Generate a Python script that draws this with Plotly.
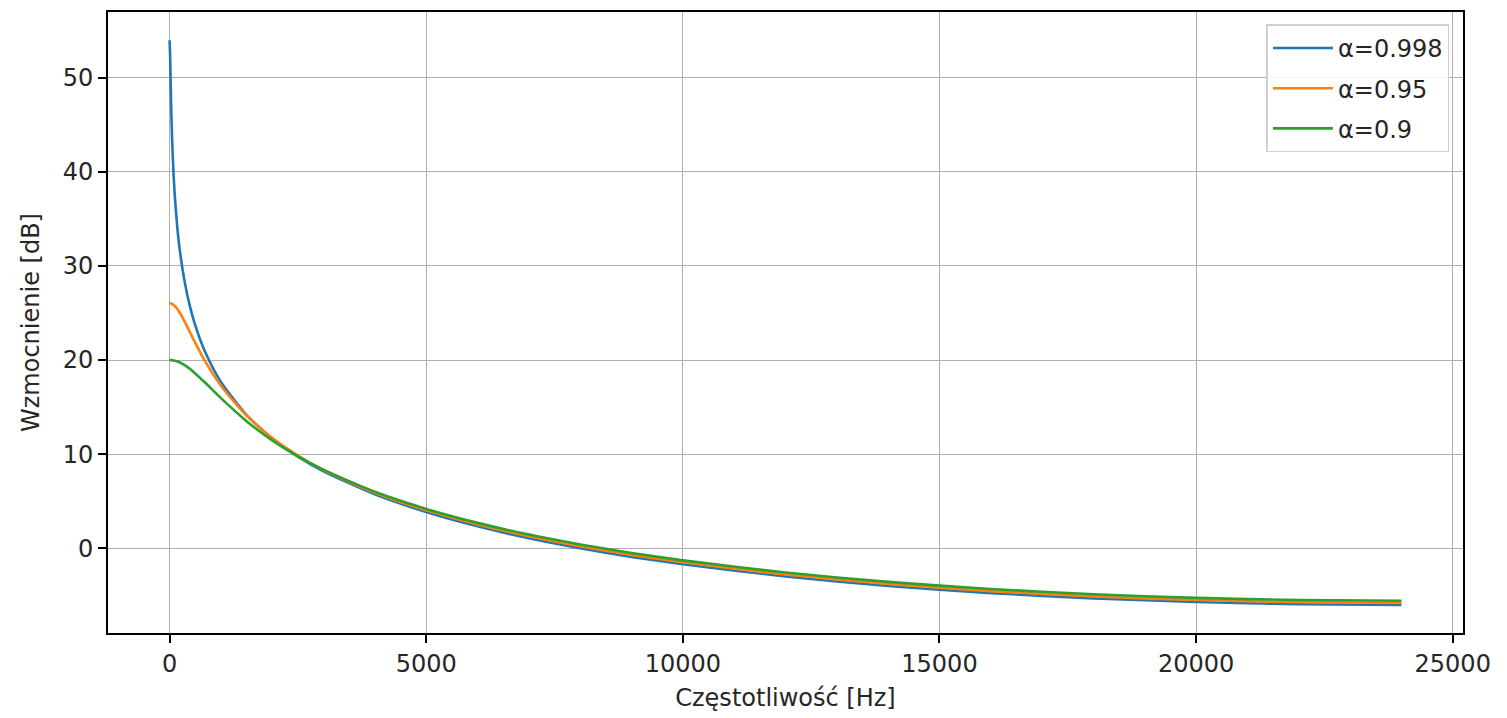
import plotly.graph_objects as go

# Frequency response of first-order de-emphasis filters, fs = 48 kHz
freq_hz = [0, 10, 20, 30, 50, 75, 100, 150, 200, 300, 400, 500, 700, 1000, 1500,
           2000, 2500, 3000, 4000, 5000, 6000, 7000, 8000, 9000, 10000, 12000,
           14000, 16000, 18000, 20000, 22000, 24000]

gain_a0998 = [53.98, 52.43, 49.65, 47.12, 43.30, 40.00, 37.57, 34.10, 31.62, 28.12,
              25.62, 23.69, 20.77, 17.68, 14.16, 11.67, 9.75, 8.18, 5.73, 3.85,
              2.33, 1.07, 0.01, -0.91, -1.70, -3.00, -4.00, -4.76, -5.32, -5.71,
              -5.94, -6.01]

gain_a095 = [26.02, 26.02, 26.01, 26.00, 25.95, 25.86, 25.75, 25.43, 25.02, 24.02,
             22.92, 21.83, 19.80, 17.27, 14.09, 11.72, 9.86, 8.32, 5.90, 4.03,
             2.53, 1.27, 0.21, -0.70, -1.49, -2.79, -3.79, -4.55, -5.11, -5.50,
             -5.73, -5.80]

gain_a09 = [20.00, 20.00, 20.00, 19.99, 19.98, 19.96, 19.93, 19.85, 19.74, 19.44,
            19.04, 18.58, 17.56, 15.95, 13.51, 11.47, 9.77, 8.33, 6.00, 4.18,
            2.70, 1.46, 0.41, -0.50, -1.28, -2.58, -3.57, -4.33, -4.89, -5.27,
            -5.50, -5.58]

series_names = ["α=0.998", "α=0.95", "α=0.9"]
series_values = [gain_a0998, gain_a095, gain_a09]
series_colors = ["#1f77b4", "#ff7f0e", "#2ca02c"]

x_ticks = [0, 5000, 10000, 15000, 20000, 25000]
y_ticks = [0, 10, 20, 30, 40, 50]

FONT = "DejaVu Sans"
FONT_SIZE = 24
TEXT_COLOR = "#262626"

fig = go.Figure()
for name, vals, color in zip(series_names, series_values, series_colors):
    fig.add_trace(go.Scatter(
        x=freq_hz, y=vals, mode="lines", name=name, legendgroup=name,
        line=dict(color=color, width=2.6, shape="spline", smoothing=0.6),
    ))

axis_common = dict(
    showline=True, linecolor="black", linewidth=1.8, mirror=True,
    showgrid=True, gridcolor="#b0b0b0", gridwidth=1.4,
    ticks="outside", ticklen=8, tickwidth=1.8, tickcolor="black",
    zeroline=False,
    tickfont=dict(family=FONT, size=FONT_SIZE, color=TEXT_COLOR),
)

fig.update_xaxes(
    range=[-1200, 25200], tickvals=x_ticks, ticktext=[str(v) for v in x_ticks],
    title=dict(text="Częstotliwość [Hz]", font=dict(family=FONT, size=FONT_SIZE, color=TEXT_COLOR), standoff=12),
    **axis_common,
)
fig.update_yaxes(
    range=[-9.0, 56.98], tickvals=y_ticks, ticktext=[str(v) for v in y_ticks],
    title=dict(text="Wzmocnienie [dB]", font=dict(family=FONT, size=FONT_SIZE, color=TEXT_COLOR), standoff=16),
    **axis_common,
)

fig.update_layout(
    width=1507, height=718,
    margin=dict(l=108, r=44, t=10, b=85),
    paper_bgcolor="white", plot_bgcolor="white",
    font=dict(family=FONT, size=FONT_SIZE, color=TEXT_COLOR),
    showlegend=True,
    legend=dict(
        x=0.99, y=0.98, xanchor="right", yanchor="top",
        bgcolor="rgba(255,255,255,0.85)", bordercolor="#d0d0d0", borderwidth=1.5,
        font=dict(family=FONT, size=FONT_SIZE, color=TEXT_COLOR),
        tracegroupgap=6, itemwidth=60,
    ),
)

fig.write_html("out.html")
